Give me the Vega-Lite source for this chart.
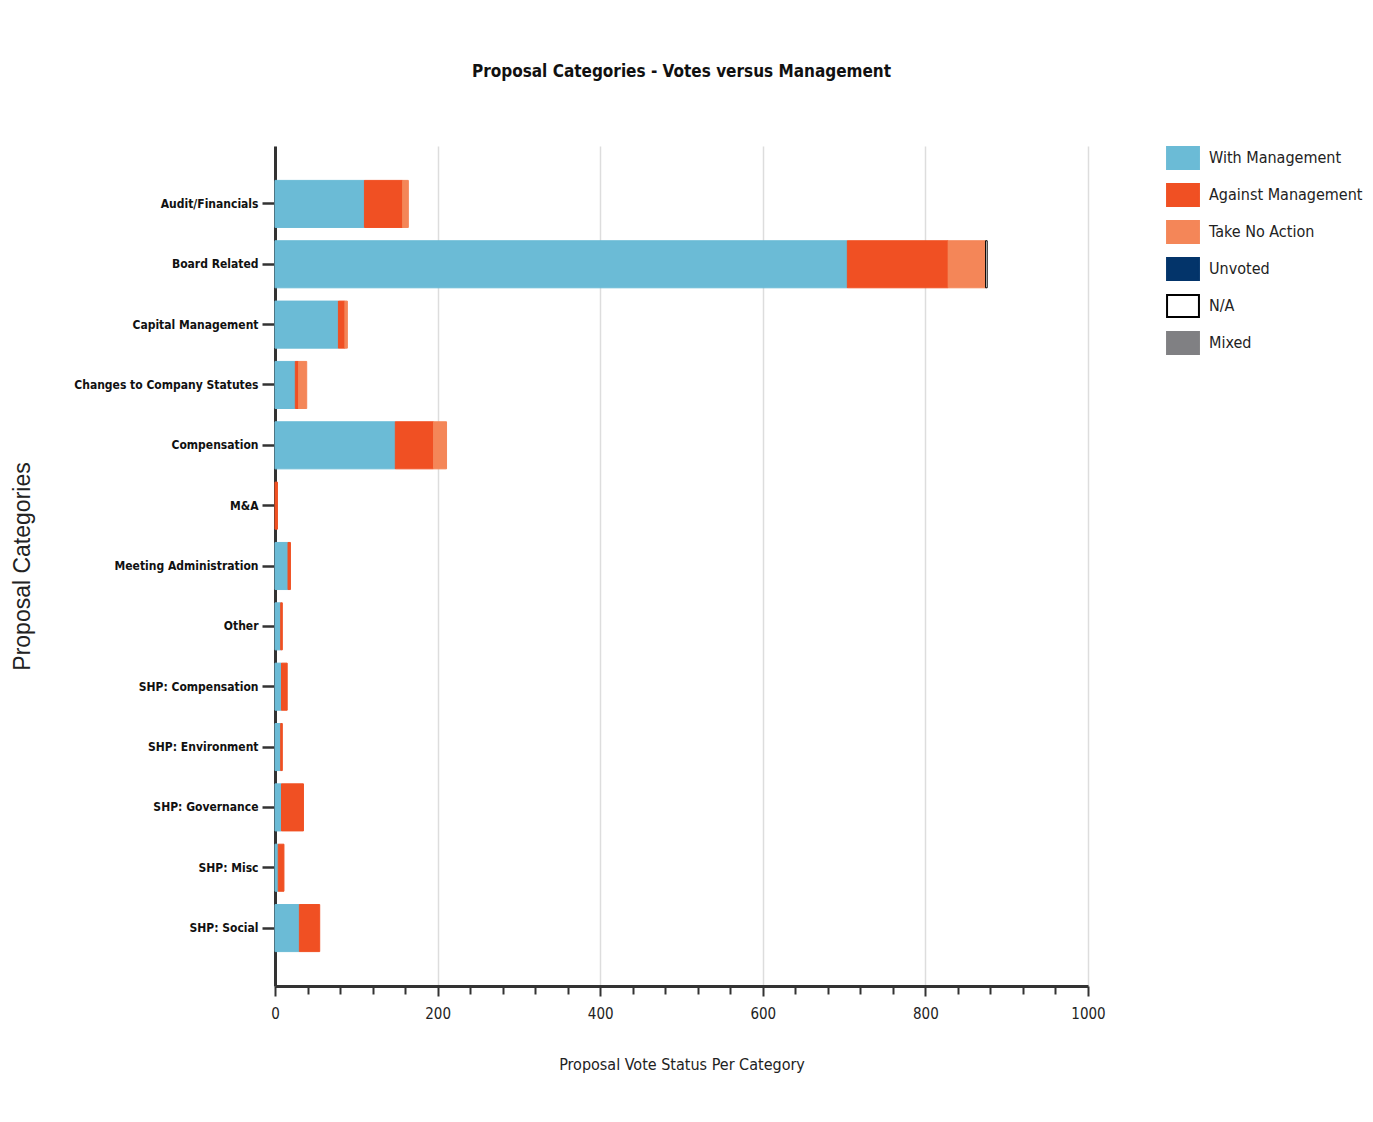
{
  "$schema": "https://vega.github.io/schema/vega-lite/v6.json",
  "width": 813,
  "height": 840,
  "padding": {"left": 11, "top": 63, "right": 6, "bottom": 10},
  "background": "white",
  "title": {
    "text": "Proposal Categories - Votes versus Management",
    "font": "DejaVu Sans Condensed",
    "fontSize": 17,
    "fontWeight": "bold",
    "color": "#111111",
    "offset": 65,
    "anchor": "middle"
  },
  "datasets": {
    "statuses": [
      {"status": "With Management", "stackRank": 1},
      {"status": "Against Management", "stackRank": 2},
      {"status": "Take No Action", "stackRank": 3},
      {"status": "Unvoted", "stackRank": 4},
      {"status": "N/A", "stackRank": 5},
      {"status": "Mixed", "stackRank": 6}
    ]
  },
  "data": {
    "values": [
      {"category": "Audit/Financials", "status": "With Management", "count": 110},
      {"category": "Audit/Financials", "status": "Against Management", "count": 47},
      {"category": "Audit/Financials", "status": "Take No Action", "count": 7},
      {"category": "Board Related", "status": "With Management", "count": 704},
      {"category": "Board Related", "status": "Against Management", "count": 124},
      {"category": "Board Related", "status": "Take No Action", "count": 46},
      {"category": "Board Related", "status": "N/A", "count": 2},
      {"category": "Capital Management", "status": "With Management", "count": 78},
      {"category": "Capital Management", "status": "Against Management", "count": 8},
      {"category": "Capital Management", "status": "Take No Action", "count": 3},
      {"category": "Changes to Company Statutes", "status": "With Management", "count": 25},
      {"category": "Changes to Company Statutes", "status": "Against Management", "count": 4},
      {"category": "Changes to Company Statutes", "status": "Take No Action", "count": 10},
      {"category": "Compensation", "status": "With Management", "count": 148},
      {"category": "Compensation", "status": "Against Management", "count": 47},
      {"category": "Compensation", "status": "Take No Action", "count": 16},
      {"category": "M&A", "status": "Against Management", "count": 3},
      {"category": "Meeting Administration", "status": "With Management", "count": 16},
      {"category": "Meeting Administration", "status": "Against Management", "count": 3},
      {"category": "Other", "status": "With Management", "count": 7},
      {"category": "Other", "status": "Against Management", "count": 2},
      {"category": "SHP: Compensation", "status": "With Management", "count": 8},
      {"category": "SHP: Compensation", "status": "Against Management", "count": 7},
      {"category": "SHP: Environment", "status": "With Management", "count": 7},
      {"category": "SHP: Environment", "status": "Against Management", "count": 2},
      {"category": "SHP: Governance", "status": "With Management", "count": 8},
      {"category": "SHP: Governance", "status": "Against Management", "count": 27},
      {"category": "SHP: Misc", "status": "With Management", "count": 4},
      {"category": "SHP: Misc", "status": "Against Management", "count": 7},
      {"category": "SHP: Social", "status": "With Management", "count": 30},
      {"category": "SHP: Social", "status": "Against Management", "count": 25}
    ]
  },
  "transform": [
    {
      "lookup": "status",
      "from": {"data": {"name": "statuses"}, "key": "status", "fields": ["stackRank"]}
    }
  ],
  "mark": {"type": "bar", "strokeWidth": 1},
  "encoding": {
    "y": {
      "field": "category",
      "type": "nominal",
      "sort": null,
      "scale": {"paddingInner": 0.22, "paddingOuter": 0.57},
      "axis": {
        "title": "Proposal Categories",
        "titleFont": "Liberation Sans",
        "titleFontSize": 23,
        "titleFontWeight": "normal",
        "titleColor": "#222222",
        "titlePadding": 41,
        "labelFont": "DejaVu Sans Condensed",
        "labelFontSize": 12,
        "labelFontWeight": "bold",
        "labelColor": "#111111",
        "labelPadding": 4,
        "labelLimit": 300,
        "tickSize": 13,
        "tickWidth": 2.5,
        "tickColor": "#333333",
        "domainColor": "#333333",
        "domainWidth": 3,
        "grid": false
      }
    },
    "x": {
      "field": "count",
      "type": "quantitative",
      "stack": "zero",
      "scale": {"domain": [0, 1000], "nice": false},
      "axis": {
        "title": "Proposal Vote Status Per Category",
        "titleFont": "DejaVu Sans Condensed",
        "titleFontSize": 16,
        "titleFontWeight": "normal",
        "titleColor": "#222222",
        "titlePadding": 35,
        "values": [0, 40, 80, 120, 160, 200, 240, 280, 320, 360, 400, 440, 480, 520, 560, 600, 640, 680, 720, 760, 800, 840, 880, 920, 960, 1000],
        "format": "d",
        "labelExpr": "datum.value % 200 === 0 ? datum.label : ''",
        "labelFont": "DejaVu Sans Condensed",
        "labelFontSize": 15,
        "labelColor": "#222222",
        "labelPadding": 10,
        "labelFlush": false,
        "tickSize": {"condition": {"test": "datum.value % 200 === 0", "value": 10}, "value": 8},
        "tickWidth": 2,
        "tickColor": "#333333",
        "domainColor": "#333333",
        "domainWidth": 3,
        "grid": true,
        "gridColor": "#dddddd",
        "gridWidth": 1.5,
        "gridOpacity": {"condition": {"test": "datum.value % 200 === 0", "value": 1}, "value": 0}
      }
    },
    "order": {"field": "stackRank", "type": "quantitative", "sort": "ascending"},
    "color": {
      "field": "status",
      "type": "nominal",
      "sort": ["With Management", "Against Management", "Take No Action", "Unvoted", "N/A", "Mixed"],
      "scale": {
        "domain": ["With Management", "Against Management", "Take No Action", "Unvoted", "N/A", "Mixed"],
        "range": ["#6bbbd6", "#f05023", "#f48658", "#03346a", "#ffffff", "#808083"]
      },
      "legend": {
        "title": null,
        "orient": "right",
        "offset": 83,
        "symbolType": "M-1.45,-1H1.45V1H-1.45Z",
        "symbolSize": 484,
        "symbolStrokeWidth": 2,
        "symbolOpacity": 1,
        "labelFont": "DejaVu Sans Condensed",
        "labelFontSize": 16,
        "labelColor": "#222222",
        "labelOffset": 14,
        "rowPadding": 7,
        "labelLimit": 300
      }
    },
    "stroke": {
      "field": "status",
      "type": "nominal",
      "sort": ["With Management", "Against Management", "Take No Action", "Unvoted", "N/A", "Mixed"],
      "scale": {
        "domain": ["With Management", "Against Management", "Take No Action", "Unvoted", "N/A", "Mixed"],
        "range": ["#6bbbd6", "#f05023", "#f48658", "#03346a", "#000000", "#808083"]
      }
    }
  },
  "config": {
    "view": {"stroke": null}
  }
}
